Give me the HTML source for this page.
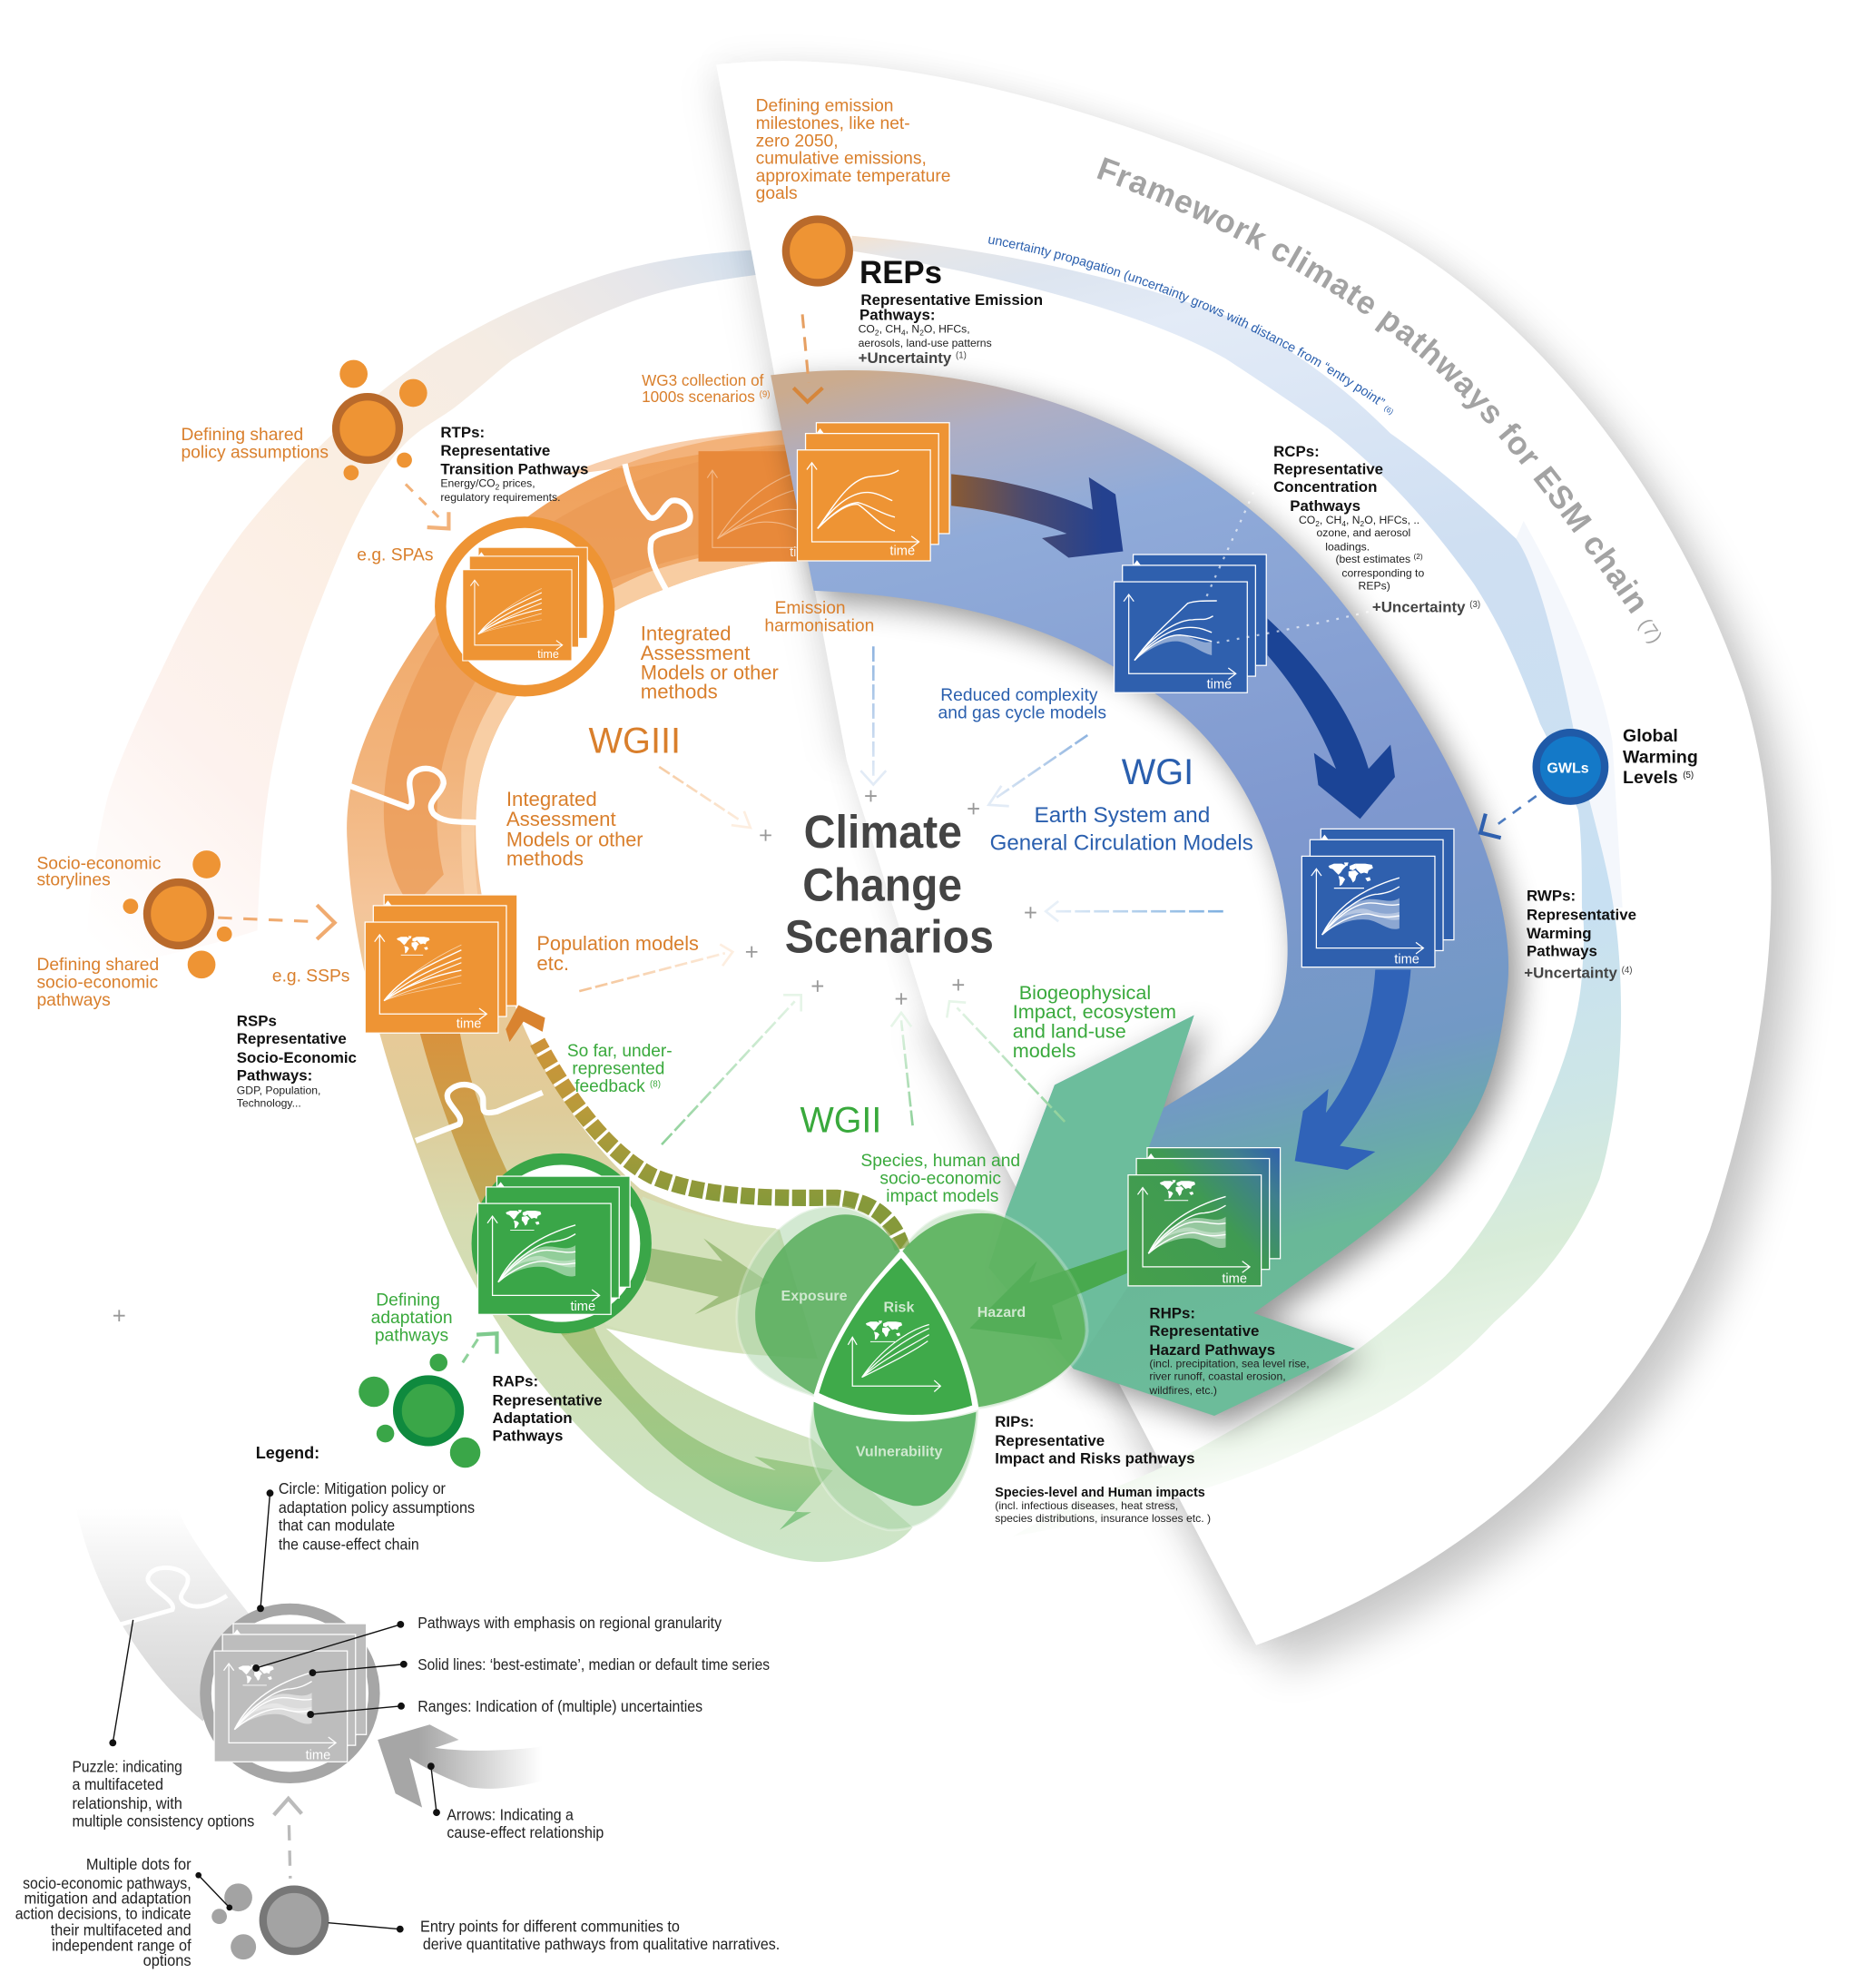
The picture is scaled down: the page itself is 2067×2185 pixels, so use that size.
<!DOCTYPE html>
<html><head><meta charset="utf-8"><title>Framework climate pathways</title>
<style>
html,body{margin:0;padding:0;background:#fff}
svg{display:block}
text{font-family:"Liberation Sans",Arial,sans-serif}
.o{fill:#d97f2c;font-size:13.8px}
.ol{fill:#d97f2c;font-size:15.9px}
.b{fill:#2a5fae;font-size:13.8px}
.g{fill:#39a93c;font-size:13.8px}
.gl{fill:#39a93c;font-size:15.5px}
.k{fill:#111;font-weight:bold;font-size:12.1px}
.s{fill:#222;font-size:8.75px}
.u{fill:#444;font-weight:bold;font-size:12.1px}
.v{fill:#cfe8cf;font-weight:bold;font-size:11.5px}
.t{fill:#fff;font-size:10.5px}
.l{fill:#222;font-size:12.5px}
.c{fill:#444;font-weight:bold;font-size:36.5px}
.sup{font-size:7px;font-weight:normal}
</style></head><body>
<svg xmlns="http://www.w3.org/2000/svg" width="2067" height="2185" viewBox="0 0 1480 1564.5">
<defs>
<filter id="b6" x="-30%" y="-30%" width="160%" height="160%"><feGaussianBlur stdDeviation="6"/></filter>
<filter id="b12" x="-30%" y="-30%" width="160%" height="160%"><feGaussianBlur stdDeviation="12"/></filter>
<filter id="b16" x="-30%" y="-30%" width="160%" height="160%"><feGaussianBlur stdDeviation="16"/></filter>
<linearGradient id="gLeft" gradientUnits="userSpaceOnUse" x1="620" y1="200" x2="90" y2="760">
<stop offset="0" stop-color="#cddff0"/><stop offset=".12" stop-color="#e6e6ea"/><stop offset=".28" stop-color="#f5ece3"/><stop offset=".5" stop-color="#fbeee2"/><stop offset=".78" stop-color="#fdf2ee"/><stop offset="1" stop-color="#fff"/></linearGradient>
<linearGradient id="gRight" gradientUnits="userSpaceOnUse" x1="672" y1="186" x2="882" y2="1206">
<stop offset="0" stop-color="#f4e2d0"/><stop offset=".02" stop-color="#e6e6e8"/><stop offset=".06" stop-color="#dde5f0"/><stop offset=".11" stop-color="#e3ebf7"/><stop offset=".32" stop-color="#cfdff2"/><stop offset=".61" stop-color="#c8e0f2"/><stop offset=".75" stop-color="#cde6e6"/><stop offset=".85" stop-color="#d8ecd8"/><stop offset=".955" stop-color="#eef7ec"/><stop offset="1" stop-color="#fff"/></linearGradient>
<linearGradient id="gBlue" gradientUnits="userSpaceOnUse" x1="700" y1="290" x2="900" y2="1120">
<stop offset="0" stop-color="#cbab8e"/><stop offset=".07" stop-color="#aeaec4"/><stop offset=".17" stop-color="#90abd9"/><stop offset=".5" stop-color="#7f98cf"/><stop offset=".72" stop-color="#7299c5"/><stop offset=".8" stop-color="#6aa8ad"/><stop offset=".87" stop-color="#69b898"/><stop offset="1" stop-color="#6cbc9a"/></linearGradient>
<linearGradient id="gRing" gradientUnits="userSpaceOnUse" x1="0" y1="340" x2="0" y2="1235">
<stop offset="0" stop-color="#ef9f58"/><stop offset=".3" stop-color="#f2b47c"/><stop offset=".42" stop-color="#f4c59a"/><stop offset=".52" stop-color="#e8ca97"/><stop offset=".6" stop-color="#dfcc9a"/><stop offset=".7" stop-color="#d6dcb2"/><stop offset=".8" stop-color="#d0dfb6"/><stop offset="1" stop-color="#cde6c9"/></linearGradient>
<linearGradient id="gS2" gradientUnits="userSpaceOnUse" x1="0" y1="810" x2="0" y2="1050">
<stop offset="0" stop-color="#d9913c"/><stop offset=".45" stop-color="#c6a552"/><stop offset="1" stop-color="#a3bb70"/></linearGradient>
<linearGradient id="gB" gradientUnits="userSpaceOnUse" x1="0" y1="1050" x2="0" y2="1210">
<stop offset="0" stop-color="#a9c27a"/><stop offset=".7" stop-color="#98c885"/><stop offset="1" stop-color="#7bc481"/></linearGradient>
<linearGradient id="gA1" gradientUnits="userSpaceOnUse" x1="750" y1="0" x2="870" y2="0">
<stop offset="0" stop-color="#8a5a33"/><stop offset=".5" stop-color="#4a4a70"/><stop offset="1" stop-color="#24418f"/></linearGradient>
<linearGradient id="gFb" gradientUnits="userSpaceOnUse" x1="0" y1="800" x2="0" y2="950">
<stop offset="0" stop-color="#d6913a"/><stop offset=".5" stop-color="#b89a3a"/><stop offset="1" stop-color="#86993a"/></linearGradient>
<linearGradient id="gHaz" gradientUnits="userSpaceOnUse" x1="890" y1="1015" x2="1010" y2="905">
<stop offset="0" stop-color="#46a04c"/><stop offset=".55" stop-color="#3f9a52"/><stop offset=".82" stop-color="#3f7f8e"/><stop offset="1" stop-color="#2f60ae"/></linearGradient>
<linearGradient id="gLegArr" gradientUnits="userSpaceOnUse" x1="330" y1="0" x2="428" y2="0">
<stop offset="0" stop-color="#a6a6a6"/><stop offset="1" stop-color="#fff"/></linearGradient>
<linearGradient id="gLegBand" gradientUnits="userSpaceOnUse" x1="0" y1="1190" x2="0" y2="1360">
<stop offset="0" stop-color="#fff"/><stop offset=".6" stop-color="#e2e2e2"/><stop offset="1" stop-color="#d4d4d4"/></linearGradient>
<linearGradient id="d1" gradientUnits="userSpaceOnUse" x1="689" y1="510" x2="689" y2="615"><stop offset="0" stop-color="#8fb4e0"/><stop offset="1" stop-color="#e2ebf6"/></linearGradient>
<linearGradient id="d2" gradientUnits="userSpaceOnUse" x1="858" y1="580" x2="780" y2="635"><stop offset="0" stop-color="#8fb4e0"/><stop offset="1" stop-color="#e2ebf6"/></linearGradient>
<linearGradient id="d3" gradientUnits="userSpaceOnUse" x1="965" y1="719" x2="825" y2="719"><stop offset="0" stop-color="#7fb0e0"/><stop offset="1" stop-color="#e8f0f8"/></linearGradient>
<linearGradient id="d4" gradientUnits="userSpaceOnUse" x1="520" y1="605" x2="590" y2="650"><stop offset="0" stop-color="#f6cba2"/><stop offset="1" stop-color="#fdeee0"/></linearGradient>
<linearGradient id="d5" gradientUnits="userSpaceOnUse" x1="457" y1="782" x2="578" y2="750"><stop offset="0" stop-color="#f4c294"/><stop offset="1" stop-color="#fdeee0"/></linearGradient>
<linearGradient id="d6" gradientUnits="userSpaceOnUse" x1="522" y1="903" x2="632" y2="785"><stop offset="0" stop-color="#8fd19a"/><stop offset="1" stop-color="#e6f5e8"/></linearGradient>
<linearGradient id="d7" gradientUnits="userSpaceOnUse" x1="720" y1="888" x2="710" y2="800"><stop offset="0" stop-color="#8fd19a"/><stop offset="1" stop-color="#e6f5e8"/></linearGradient>
<linearGradient id="d8" gradientUnits="userSpaceOnUse" x1="840" y1="885" x2="750" y2="790"><stop offset="0" stop-color="#8fd19a"/><stop offset="1" stop-color="#e6f5e8"/></linearGradient>
<path id="titlePath" d="M864,140 C960,175 1090,240 1165,325 C1210,375 1250,430 1310,518"/>
<path id="uncPath" d="M779,192 C890,212 1010,262 1104,332"/>
<path id="cres" d="M565,51 C700,35 880,85 1074,174 C1200,235 1320,380 1376,548 C1410,660 1405,800 1349,970 C1300,1100 1180,1230 991,1298 L733,806 L668,600Z"/>
<path id="wedge" d="M608,296 C780,275 960,340 1070,490 C1160,610 1200,720 1188,788 C1182,840 1170,870 1154,893 C1135,930 1095,960 1057,988 L989,1036 L1069,1064 L958,1117 L847,1080 L780,1000 L794,956 L832,856 L942,801 L918,874 C965,845 1005,825 1013,780 C1025,720 1000,600 900,540 C830,490 740,470 642,466Z"/>

<g id="stk">
<rect x="15" y="-21.5" width="105" height="87.5" fill="currentColor" stroke="#fff" stroke-width=".9"/>
<rect x="6.5" y="-13" width="105" height="87.5" fill="currentColor" stroke="#fff" stroke-width=".9"/>
<path d="M15,-13 l3,-4 l3,4z" fill="#fff"/>
<rect x="0" y="0" width="105" height="87.5" fill="currentColor" stroke="#fff" stroke-width=".9"/>
<g fill="none" stroke="#fff" stroke-width=".9">
<path d="M11.5,11 V72.5 H96"/><path d="M7.5,15.5 L11.5,10 L15.5,15.5"/><path d="M90,68 L96,72.5 L90,77"/>
</g>
</g>
<g id="map" fill="#fff">
<path d="M0,3 L5,1 L12,1 L16,3 L13,6 L11,9 L9,11 L7,9 L4,6 L1,5Z"/>
<path d="M14,0 L18,0 L17,3 L15,3Z"/>
<path d="M9,12 L13,13 L15,15 L12,20 L10,21 L10,16Z"/>
<path d="M19,3 L24,1 L25,5 L22,7 L19,6Z"/>
<path d="M18,8 L24,7 L27,10 L25,12 L24,16 L22,18 L20,14 L18,12Z"/>
<path d="M24,1 L33,1 L39,2 L40,5 L36,7 L35,10 L32,9 L29,10 L27,8 L25,6Z"/>
<path d="M33,14 L37,13 L38,16 L35,17Z"/>
<path d="M5,23 L32,23" stroke="#fff" stroke-width="1"/>
</g>
<g id="chBand">
<path d="M16,62 C25,45 40,36 52,34 C62,33 70,38 77,33 L77,57 C68,60 60,50 50,50 C38,49 25,55 16,62Z" fill="#fff" opacity=".45"/>
<path d="M24,53 C35,43 45,40 52,42 C62,46 70,46 77,44 L77,50 C68,52 60,46 50,45 C40,44 30,48 24,53Z" fill="#fff" opacity=".35"/>
<g fill="none" stroke="#fff" stroke-width="1">
<path d="M16,62 C28,38 50,25 77,17"/><path d="M16,62 C30,42 50,30 60,30 C68,29 72,27 77,24"/><path d="M16,62 C28,48 40,38 52,37 C60,36 68,40 77,38"/><path d="M16,62 C30,50 45,44 55,46 C65,49 70,48 77,47"/>
</g>
</g>
<g id="chBundle" fill="none" stroke="#fff">
<path d="M15,62 C30,45 50,30 76,18" stroke-width=".6" opacity=".6"/>
<path d="M15,62 C30,42 55,32 76,22" stroke-width="1"/>
<path d="M15,62 C32,46 55,36 76,28" stroke-width="1"/>
<path d="M15,62 C32,50 55,40 76,32" stroke-width=".8"/>
<path d="M15,62 C32,50 55,42 76,38" stroke-width="1"/>
<path d="M15,62 C32,54 55,48 76,42" stroke-width=".6" opacity=".7"/>
<path d="M15,62 C30,56 55,52 76,48" stroke-width=".6" opacity=".5"/>
</g>
</defs>

<rect width="1480" height="1564.5" fill="#fff"/>

<!-- left faint band -->
<path d="M622,196 C550,198 500,208 462,222 C420,236 385,253 346,276 C290,312 235,365 191,420 C165,455 148,485 133,517 C110,565 98,590 86,625 C75,665 70,715 66,765 C110,760 170,745 203,734 C205,680 208,635 218,590 C225,555 238,510 253,474 C268,435 285,395 307,365 C325,340 340,335 358,322 C380,305 390,295 404,284 C435,265 465,250 501,237 C530,227 565,220 622,214Z" fill="url(#gLeft)"/>

<!-- outer crescent shadows and fill -->
<use href="#cres" fill="#000" opacity=".05" filter="url(#b12)" transform="translate(-2,-4)"/>
<use href="#cres" fill="#000" opacity=".2" filter="url(#b16)" transform="translate(20,20)"/>
<path d="M566,60 L668,600" stroke="#000" stroke-opacity=".06" stroke-width="22" filter="url(#b12)" fill="none"/>
<path d="M733,806 L991,1298" stroke="#000" stroke-opacity=".09" stroke-width="30" filter="url(#b12)" fill="none"/>
<use href="#cres" fill="#fff"/>

<!-- right uncertainty band -->
<path d="M1202,411 C1235,470 1262,530 1272,585 L1280,716 L1273,716 C1268,680 1255,640 1245,594 C1235,540 1215,450 1196,425Z" fill="#f4f7fc"/>
<path d="M672,186 C780,195 890,220 967,249 C1010,270 1050,295 1097,342 C1130,365 1170,400 1196,425 C1215,450 1235,540 1245,594 C1255,640 1268,680 1273,716 C1280,760 1285,850 1262,930 C1240,985 1210,1015 1179,1043 C1140,1085 1100,1110 1057,1130 C1010,1155 960,1172 945,1176 C890,1195 840,1205 799,1212 C820,1200 850,1185 862,1180 C920,1160 960,1135 1008,1107 C1060,1075 1100,1045 1140,1007 C1175,970 1195,930 1213,888 C1230,850 1245,810 1248,770 C1250,740 1250,730 1248,716 C1248,690 1248,660 1245,639 C1235,615 1225,590 1215,571 C1200,530 1185,495 1163,461 C1130,415 1095,375 1048,338 C1020,318 990,298 967,283 C900,245 780,215 672,198Z" fill="url(#gRight)"/>

<!-- main ring -->
<path d="M640,338 C520,345 420,380 355,470 C295,550 270,610 274,665 C278,760 310,860 345,950 C380,1040 440,1120 510,1175 C570,1215 620,1235 655,1232 C690,1228 710,1218 720,1205 L640,1135 C590,1118 525,1090 478,1048 C550,1065 600,1070 645,1072 L615,970 C570,965 530,950 505,938 C450,890 420,830 405,790 C375,720 370,650 380,610 C395,550 440,495 524,465 C560,450 600,442 640,440Z" fill="url(#gRing)"/>
<path d="M640,350 C530,358 430,400 375,462 C325,520 300,590 303,650 C305,680 312,700 325,716 L350,690 C338,640 345,580 385,522 C420,475 520,432 640,425Z" fill="#eb9a54" opacity=".75"/>
<path d="M640,440 C600,442 560,450 524,465 C440,495 395,550 380,610 C370,650 375,720 385,745 L372,745 C362,690 362,640 368,600 C385,540 430,485 510,452 C550,438 600,430 640,428Z" fill="#f8d0a8" opacity=".9"/>
<path d="M640,338 C560,342 500,352 445,375 L500,368 C550,358 600,350 640,350Z" fill="#f5b987" opacity=".7"/>
<path d="M330,810 C345,870 370,930 395,985 L444,1054 L469,1048 L440,1000 C400,930 372,870 362,810Z" fill="url(#gS2)"/>
<!-- light green A band -->
<path d="M507,944 C540,958 580,966 612,969 L642,1070 C590,1072 530,1062 477,1045Z" fill="#d4e2bb" opacity=".9"/>
<!-- puzzle lines -->
<g fill="none" stroke="#fff" stroke-width="4.5">
<path d="M493,366 C497,385 503,398 512,408 C520,412 523,398 530,395 C540,393 548,405 543,413 C535,420 520,418 514,426 C510,440 520,455 527,468"/>
<path d="M276,620 L322,637 C330,635 318,618 326,610 C335,602 350,608 350,618 C348,628 335,632 342,642 C350,650 365,648 377,649"/>
<path d="M328,900 L362,887 C368,880 348,870 354,861 C362,852 378,855 381,866 C382,875 378,880 392,877 L428,862"/>
</g>
<!-- faded panel -->
<rect x="551" y="356" width="100" height="87" fill="#e8893a"/>
<g fill="none" stroke="#f6c69d" stroke-width=".8" opacity=".8">
<path d="M562,372 V432 H640"/><path d="M558,377 L562,371 L566,377"/>
<path d="M566,425 C585,395 610,375 640,370"/><path d="M566,425 C590,405 615,385 640,385"/><path d="M566,425 C590,410 615,395 640,405"/><path d="M566,425 C590,410 615,405 640,425"/>
</g>
<text x="623" y="439" class="t" fill-opacity=".9">ti</text>

<!-- blue wedge -->
<use href="#wedge" fill="#000" opacity=".42" filter="url(#b12)" transform="translate(8,8)"/>
<use href="#wedge" fill="url(#gBlue)"/>
<path d="M942,801 L832,856 L794,956 L780,1000 L847,1080 L900,1000 L906,906 L918,874Z" fill="#6cbd9c"/>

<!-- cause arrows -->
<path d="M750.5,374 C790,378 830,388 862,402 L859,376.5 L880,390 L886,435 L843,440 L822,424.6 L841.6,421 C815,410 780,402 750.5,399Z" fill="url(#gA1)"/>
<path d="M1000,488 C1040,525 1068,565 1079.7,606.6 L1097,587.5 L1100.5,613 L1073,646 L1040,619.4 L1036.6,594 L1054,606.6 C1040,570 1020,540 1000,517Z" fill="#1b4496"/>
<path d="M1085,765 L1113,765 C1110,810 1090,865 1057,904 L1085,908.6 L1063,923 L1021.5,916 L1028,876.6 L1048,859 L1046,878 C1068,850 1082,810 1085,765Z" fill="#3063b8"/>

<!-- feedback dashed arrow -->
<path d="M712,985 C705,962 690,948 660,945 C620,945 560,947 515,928 C480,910 450,870 424,822" fill="none" stroke="url(#gFb)" stroke-width="13" stroke-dasharray="11 2.5"/>
<path d="M399,812 L409,793 L430,803 L428,814 L413,806 L402,822Z" fill="#d9832f"/>

<!-- A arrow -->
<path d="M514,985 L570,995 L555,977 L607,1012 L548,1037 L567,1023 L509,1010Z" fill="#8fb36a" opacity=".75"/>
<!-- B arrow -->
<path d="M469,1048 C490,1095 540,1145 612,1160 L595,1149 L657,1160 L615,1207 L640,1193 C600,1195 540,1165 502,1119 C480,1095 460,1075 444,1054Z" fill="url(#gB)" opacity=".95"/>

<!-- hazard arrow -->
<path d="M889,986 L889,1004.5 L830,1030 L838,1057 L765,1048 L818,995 L812,1012Z" fill="#46ab4d"/>

<!-- Venn -->
<path d="M710,987 C690,950 655,945 630,958 C595,978 575,1020 583,1055 C590,1085 620,1095 642,1102Z" fill="#a8d4a6" opacity=".5" stroke="#fff" stroke-opacity=".5" stroke-width="2"/>
<path d="M710,987 C690,955 665,955 650,962 C615,975 590,1015 597,1050 C603,1075 625,1090 642,1100 C655,1060 680,1020 710,987Z" fill="#57ad5c" opacity=".85"/>
<path d="M712,985 C735,950 770,950 790,958 C830,975 858,1015 858,1050 C856,1085 805,1108 772,1112 C765,1065 740,1020 712,985Z" fill="#a8d4a6" opacity=".45" stroke="#fff" stroke-opacity=".5" stroke-width="2"/>
<path d="M712,987 C735,960 765,955 785,958 C825,970 855,1015 856,1050 C855,1085 805,1105 772,1110 C765,1065 740,1020 712,987Z" fill="#5cb35f" opacity=".93"/>
<path d="M889,986 L889,1004.5 L830,1030 L838,1057 L765,1048 L818,995 L812,1012Z" fill="#49a84f" opacity=".5"/>
<path d="M642,1106 C630,1150 650,1195 700,1207 C740,1210 770,1170 772,1112 C730,1126 680,1124 642,1106Z" fill="#a8d4a6" opacity=".55" stroke="#fff" stroke-opacity=".5" stroke-width="2"/>
<path d="M642,1106 C640,1140 665,1175 720,1188 C750,1190 768,1150 770,1114 C730,1126 680,1124 642,1106Z" fill="#58b263" opacity=".92"/>
<path d="M711,990 C680,1020 655,1060 644,1100 C690,1122 735,1122 769,1110 C762,1065 738,1020 711,990Z" fill="#3faa4a" stroke="#fff" stroke-width="3.5"/>
<use href="#map" transform="translate(683,1042) scale(.72)"/>
<g fill="none" stroke="#fff" stroke-width=".9">
<path d="M672.5,1055 V1093.5 H742"/><path d="M669,1061 L672.5,1055 L676,1061"/><path d="M737,1089 L742,1093.5 L737,1098"/>
<path d="M680,1086.6 C695,1065 715,1050 733,1045"/><path d="M680,1086.6 C695,1070 715,1056 733,1048"/><path d="M680,1086.6 C697,1072 718,1062 733,1053"/><path d="M680,1086.6 C697,1078 718,1068 732,1058"/>
</g>

<!-- RTP circle -->
<circle cx="414" cy="478.5" r="66.5" fill="#fff" stroke="#ee9434" stroke-width="9"/>
<!-- RAP circle -->
<circle cx="443" cy="981" r="66.5" fill="#fff" stroke="#3aa648" stroke-width="9"/>

<!-- Panels -->
<use href="#stk" x="629" y="355" style="color:#ee9434"/>
<g transform="translate(629,355)" fill="none" stroke="#fff" stroke-width="1">
<path d="M16,62 C30,42 42,22 58,21 C68,20 74,20 80,16"/><path d="M16,62 C28,45 42,33 56,33.5 C64,34 70,38 75,40"/><path d="M16,62 C28,50 38,42 48,41.5 C58,44 65,50 77,53"/><path d="M16,62 C28,50 40,42 48,43 C56,48 65,60 77,64"/>
</g>
<text x="702" y="438" class="t">time</text>

<use href="#stk" x="879" y="459" style="color:#2f60ae"/>
<g transform="translate(879,459)">
<path d="M16,62 C28,50 40,42 52,42 C62,43 70,50 77,47 L77,58 C68,56 60,48 50,47 C38,46 25,55 16,62Z" fill="#fff" opacity=".45"/>
<g fill="none" stroke="#fff" stroke-width="1">
<path d="M16,62 C30,42 45,30 58,17 C64,15 70,15 81,15"/><path d="M16,62 C30,42 50,30 62,30 C68,29 72,31 78,27"/><path d="M16,62 C30,46 45,36 60,36 C68,36 72,38 77,40"/><path d="M16,62 C28,50 40,42 52,42 C62,43 70,45 77,47"/>
</g></g>
<text x="952" y="543" class="t">time</text>

<use href="#stk" x="1027" y="675.5" style="color:#2f60ae"/>
<g transform="translate(1027,675.5)"><use href="#chBand"/><use href="#map" transform="translate(21,5) scale(.88)"/></g>
<text x="1100" y="760" class="t">time</text>

<g stroke="#fff" stroke-width=".9" fill="url(#gHaz)">
<rect x="905" y="905.5" width="105" height="87.5"/>
<rect x="896.5" y="914" width="105" height="87.5"/>
<rect x="890" y="927" width="105" height="87.5"/>
</g>
<path d="M905,914 l3,-4 l3,4z" fill="#fff"/>
<g transform="translate(890,927)" fill="none" stroke="#fff" stroke-width=".9">
<path d="M11.5,11 V72.5 H96"/><path d="M7.5,15.5 L11.5,10 L15.5,15.5"/><path d="M90,68 L96,72.5 L90,77"/>
</g>
<g transform="translate(890,927)"><use href="#chBand"/><use href="#map" transform="translate(25,4) scale(.7)"/></g>
<text x="964" y="1012" class="t">time</text>

<use href="#stk" x="377" y="949.5" style="color:#3aa648"/>
<g transform="translate(377,949.5)"><use href="#chBand"/><use href="#map" transform="translate(22,5) scale(.7)"/></g>
<text x="450" y="1034" class="t">time</text>

<use href="#stk" x="288" y="727.5" style="color:#ee9434"/>
<g transform="translate(288,727.5)"><use href="#chBundle"/><use href="#map" transform="translate(25,11) scale(.65)"/></g>
<text x="360" y="811" class="t">time</text>

<g transform="translate(365,449.5) scale(.82)">
<use href="#stk" style="color:#ee9434"/><use href="#chBundle"/>
</g>
<text x="424" y="519" class="t" style="font-size:9px">time</text>

<!-- entry circles -->
<g fill="#ee9434">
<circle cx="645" cy="198" r="25" stroke="#b96a2b" stroke-width="6"/>
<circle cx="290" cy="338" r="25" stroke="#b96a2b" stroke-width="6"/>
<circle cx="279" cy="295" r="11"/><circle cx="326" cy="310" r="11"/><circle cx="319" cy="363" r="6"/><circle cx="277" cy="373" r="6"/>
<circle cx="141" cy="721" r="25" stroke="#b96a2b" stroke-width="6"/>
<circle cx="163" cy="682" r="11"/><circle cx="103" cy="715" r="6"/><circle cx="177" cy="737" r="6"/><circle cx="159" cy="761" r="11"/>
</g>
<g fill="#3aa648">
<circle cx="338" cy="1113" r="24.5" stroke="#0f8a3e" stroke-width="7"/>
<circle cx="346" cy="1075" r="7"/><circle cx="295" cy="1098" r="12"/><circle cx="304" cy="1131" r="7"/><circle cx="367" cy="1146" r="12"/>
</g>
<circle cx="1239" cy="605" r="27" fill="#1479c8" stroke="#1f5aa8" stroke-width="6"/>

<!-- dashed entry arrows -->
<g fill="none" stroke-width="1.9">
<path d="M633,248 L638,302" stroke="#e6a063" stroke-width="2.2" stroke-dasharray="11 7"/>
<path d="M626,306 L637,317 L649,306" stroke="#d6863b" stroke-width="3"/>
<path d="M320,382 L346,408" stroke="#f2b27a" stroke-width="2.2" stroke-dasharray="8 7"/>
<path d="M337,416 L354,417 L354,404" stroke="#f2b27a" stroke-width="3"/>
<path d="M172,724 L245,727" stroke="#f0ab70" stroke-width="2.2" stroke-dasharray="11 9"/>
<path d="M250,714 L264,728 L250,741" stroke="#f0ab70" stroke-width="3"/>
<path d="M365,1075 L378,1055" stroke="#8fd19a" stroke-width="2.2" stroke-dasharray="8 6"/>
<path d="M376,1053 L392,1052 L392,1068" stroke="#7fca8e" stroke-width="3"/>
<path d="M1212,628 L1182,650" stroke="#4d7cc0" stroke-dasharray="8 7"/>
<path d="M1172,642 L1168,657 L1184,661" stroke="#2f60ae" stroke-width="3"/>
<path d="M689,510 V612" stroke="url(#d1)" stroke-dasharray="12 3"/>
<path d="M679,608 L689,619 L699,608" stroke="#e2ebf6"/>
<path d="M858,580 L785,630" stroke="url(#d2)" stroke-dasharray="12 3"/>
<path d="M790,620 L780,635 L796,636" stroke="#e2ebf6"/>
<path d="M965,719 H830" stroke="url(#d3)" stroke-dasharray="12 3"/>
<path d="M835,711 L825,719 L835,727" stroke="#e8f0f8"/>
<path d="M520,605 L585,648" stroke="url(#d4)" stroke-dasharray="10 3"/>
<path d="M577,651 L592,653 L587,640" stroke="#fdeee0"/>
<path d="M457,782 L572,752" stroke="url(#d5)" stroke-dasharray="10 3"/>
<path d="M568,745 L578,751 L570,762" stroke="#fdeee0"/>
<path d="M522,903 L627,790" stroke="url(#d6)" stroke-dasharray="12 3"/>
<path d="M618,785 L632,785 L632,798" stroke="#e6f5e8"/>
<path d="M720,888 L711,805" stroke="url(#d7)" stroke-dasharray="12 3"/>
<path d="M703,810 L711,799 L719,810" stroke="#e6f5e8"/>
<path d="M840,885 L755,795" stroke="url(#d8)" stroke-dasharray="12 3"/>
<path d="M747,803 L749,790 L762,791" stroke="#e6f5e8"/>
</g>
<!-- RCP dotted -->
<g fill="none" stroke="#fff" stroke-opacity=".65" stroke-width="1.6" stroke-dasharray="2 6">
<path d="M998,366 C985,400 965,440 950,475"/><path d="M960,507 C1000,500 1050,490 1082,482"/>
</g>
<!-- plus signs -->
<g stroke="#999" stroke-width="1.3">
<path d="M682.5,628 h9 M687,623.5 v9"/><path d="M763.5,638 h9 M768,633.5 v9"/><path d="M599.5,659 h9 M604,654.5 v9"/><path d="M808.5,720 h9 M813,715.5 v9"/><path d="M588.5,751 h9 M593,746.5 v9"/><path d="M640.5,778 h9 M645,773.5 v9"/><path d="M706.5,788 h9 M711,783.5 v9"/><path d="M751.5,777 h9 M756,772.5 v9"/><path d="M89.5,1038 h9 M94,1033.5 v9"/>
</g>

<!-- LEGEND graphics -->
<path d="M60,1190 C75,1260 115,1320 160,1358 L197,1274 C170,1240 150,1215 140,1190Z" fill="url(#gLegBand)"/>
<path d="M90,1283 L136,1270 C140,1262 113,1252 117,1244 C120,1234 142,1235 148,1244 C150,1254 138,1258 145,1264 C152,1270 165,1268 179,1259" fill="none" stroke="#fff" stroke-width="3.5"/>
<circle cx="228.7" cy="1336" r="66.5" fill="#fff" stroke="#a6a6a6" stroke-width="9"/>
<use href="#stk" x="169" y="1302.5" style="color:#bdbdbd"/>
<g transform="translate(169,1302.5)"><use href="#chBand"/><use href="#map" transform="translate(19,11) scale(.7)"/></g>
<text x="241" y="1388" class="t">time</text>
<path d="M298,1372.6 L339,1360.6 L362,1372.6 L343,1379 C365,1382 395,1382 428,1378 L428,1405 C400,1412 385,1412 370,1410 C350,1402 335,1395 323,1387 L333,1426 L312,1415Z" fill="url(#gLegArr)"/>
<path d="M216,1432 L227.5,1419 L238,1431" fill="none" stroke="#bbb" stroke-width="3"/>
<path d="M228,1440 L229,1482" stroke="#bbb" stroke-width="2.4" stroke-dasharray="12 8" fill="none"/>
<circle cx="232" cy="1515" r="24.5" fill="#a3a3a3" stroke="#777" stroke-width="6"/>
<circle cx="188" cy="1497" r="11" fill="#a3a3a3"/><circle cx="173" cy="1512" r="6" fill="#a3a3a3"/><circle cx="192" cy="1536" r="10" fill="#a3a3a3"/>
<g stroke="#111" stroke-width="1" fill="none">
<path d="M213,1178 L205.5,1269"/><path d="M316,1281.6 L202,1316"/><path d="M318.5,1313 L246.6,1319.7"/><path d="M316.5,1346 L245,1352.6"/><path d="M105,1278 L89,1375"/><path d="M340,1393.5 L344.4,1430"/><path d="M156.6,1479.5 L181,1505"/><path d="M259,1517 L315.6,1522"/>
</g>
<g fill="#111">
<circle cx="213" cy="1178" r="2.8"/><circle cx="205.5" cy="1269" r="2.8"/><circle cx="316" cy="1281.6" r="2.8"/><circle cx="202" cy="1316" r="2.8"/><circle cx="318.5" cy="1313" r="2.8"/><circle cx="246.6" cy="1319.7" r="2.8"/><circle cx="316.5" cy="1346" r="2.8"/><circle cx="245" cy="1352.6" r="2.8"/><circle cx="89" cy="1375" r="2.8"/><circle cx="340" cy="1393.5" r="2.8"/><circle cx="344.4" cy="1430" r="2.8"/><circle cx="156.6" cy="1479.5" r="2.4"/><circle cx="181" cy="1505" r="2.4"/><circle cx="315.6" cy="1522" r="2.8"/>
</g>

<!-- TEXT -->
<text style="font-size:25.5px;font-weight:bold;fill:#a3a3a3;letter-spacing:.7px"><textPath href="#titlePath">Framework climate pathways for ESM chain <tspan style="font-size:15px;font-weight:normal">(7)</tspan></textPath></text>
<text style="font-size:10.3px;fill:#2a5fae"><textPath href="#uncPath">uncertainty propagation (uncertainty grows with distance from “entry point” <tspan style="font-size:6px">(6)</tspan></textPath></text>

<g transform="scale(.99865,.998)">
<text class="o" x="597" y="88">Defining emission</text>
<text class="o" x="597" y="102">milestones, like net-</text>
<text class="o" x="597" y="116">zero 2050,</text>
<text class="o" x="597" y="129.5">cumulative emissions,</text>
<text class="o" x="597" y="143.5" textLength="154" lengthAdjust="spacingAndGlyphs">approximate temperature</text>
<text class="o" x="597" y="157">goals</text>
<text class="o" style="font-size:12.3px" x="507" y="305">WG3 collection of</text>
<text class="o" style="font-size:12.3px" x="507" y="318">1000s scenarios <tspan dy="-4" class="sup">(9)</tspan></text>
<text class="o" x="612" y="485">Emission</text>
<text class="o" x="604" y="499">harmonisation</text>
<text class="ol" x="506" y="506">Integrated</text>
<text class="ol" x="506" y="521.5">Assessment</text>
<text class="ol" x="506" y="537" textLength="109" lengthAdjust="spacingAndGlyphs">Models or other</text>
<text class="ol" x="506" y="552">methods</text>
<text class="ol" style="font-size:28.5px" x="465" y="595">WGIII</text>
<text class="ol" x="400" y="637">Integrated</text>
<text class="ol" x="400" y="653">Assessment</text>
<text class="ol" x="400" y="669" textLength="108" lengthAdjust="spacingAndGlyphs">Models or other</text>
<text class="ol" x="400" y="684">methods</text>
<text class="ol" x="424" y="751" textLength="128" lengthAdjust="spacingAndGlyphs">Population models</text>
<text class="ol" x="424" y="767">etc.</text>
<text class="o" x="143" y="348">Defining shared</text>
<text class="o" x="143" y="362">policy assumptions</text>
<text class="o" x="282" y="443">e.g. SPAs</text>
<text class="o" x="29" y="687">Socio-economic</text>
<text class="o" x="29" y="700">storylines</text>
<text class="o" x="29" y="767">Defining shared</text>
<text class="o" x="29" y="781">socio-economic</text>
<text class="o" x="29" y="795">pathways</text>
<text class="o" x="215" y="776">e.g. SSPs</text>

<text class="c" x="635" y="670" textLength="125" lengthAdjust="spacingAndGlyphs">Climate</text>
<text class="c" x="634" y="712" textLength="126" lengthAdjust="spacingAndGlyphs">Change</text>
<text class="c" x="620" y="753" textLength="165" lengthAdjust="spacingAndGlyphs">Scenarios</text>

<text class="b" x="743" y="554">Reduced complexity</text>
<text class="b" x="741" y="568" textLength="133" lengthAdjust="spacingAndGlyphs">and gas cycle models</text>
<text class="b" style="font-size:28.5px" x="886" y="620">WGI</text>
<text class="b" style="font-size:17.5px" x="817" y="650">Earth System and</text>
<text class="b" style="font-size:17.5px" x="782" y="672" textLength="208" lengthAdjust="spacingAndGlyphs">General Circulation Models</text>

<text class="gl" x="805" y="790">Biogeophysical</text>
<text class="gl" x="800" y="805">Impact, ecosystem</text>
<text class="gl" x="800" y="820.5">and land-use</text>
<text class="gl" x="800" y="836">models</text>
<text class="g" style="font-size:28.3px" x="632" y="895">WGII</text>
<text class="g" style="font-size:13.7px" x="448" y="835">So far, under-</text>
<text class="g" style="font-size:13.7px" x="452" y="849">represented</text>
<text class="g" style="font-size:13.7px" x="454" y="863">feedback <tspan dy="-4" class="sup">(8)</tspan></text>
<text class="g" x="680" y="922" textLength="126" lengthAdjust="spacingAndGlyphs">Species, human and</text>
<text class="g" x="695" y="936">socio-economic</text>
<text class="g" x="700" y="950">impact models</text>
<text class="g" x="297" y="1032">Defining</text>
<text class="g" x="293" y="1046">adaptation</text>
<text class="g" x="296" y="1060">pathways</text>

<text class="v" x="617" y="1028">Exposure</text>
<text class="v" x="698" y="1037">Risk</text>
<text class="v" x="772" y="1041">Hazard</text>
<text class="v" x="676" y="1151">Vulnerability</text>

<text class="k" style="font-size:25px" x="679" y="224">REPs</text>
<text class="k" x="680" y="241">Representative Emission</text>
<text class="k" x="679" y="253">Pathways:</text>
<text class="s" x="678" y="263">CO<tspan dy="2" font-size="6">2</tspan><tspan dy="-2">, CH</tspan><tspan dy="2" font-size="6">4</tspan><tspan dy="-2">, N</tspan><tspan dy="2" font-size="6">2</tspan><tspan dy="-2">O, HFCs,</tspan></text>
<text class="s" x="678" y="274">aerosols, land-use patterns</text>
<text class="u" x="678" y="287">+Uncertainty <tspan dy="-4" class="sup">(1)</tspan></text>

<text class="k" x="348" y="346">RTPs:</text>
<text class="k" x="348" y="360">Representative</text>
<text class="k" x="348" y="375">Transition Pathways</text>
<text class="s" x="348" y="385">Energy/CO<tspan dy="2" font-size="6">2</tspan><tspan dy="-2"> prices,</tspan></text>
<text class="s" x="348" y="396">regulatory requirements.</text>

<text class="k" x="187" y="811">RSPs</text>
<text class="k" x="187" y="825">Representative</text>
<text class="k" x="187" y="840">Socio-Economic</text>
<text class="k" x="187" y="854">Pathways:</text>
<text class="s" x="187" y="865">GDP, Population,</text>
<text class="s" x="187" y="875">Technology...</text>

<text class="k" x="1006" y="361">RCPs:</text>
<text class="k" x="1006" y="375">Representative</text>
<text class="k" x="1006" y="389">Concentration</text>
<text class="k" x="1019" y="404">Pathways</text>
<text class="s" x="1026" y="414">CO<tspan dy="2" font-size="6">2</tspan><tspan dy="-2">, CH</tspan><tspan dy="2" font-size="6">4</tspan><tspan dy="-2">, N</tspan><tspan dy="2" font-size="6">2</tspan><tspan dy="-2">O, HFCs, ..</tspan></text>
<text class="s" x="1040" y="424">ozone, and aerosol</text>
<text class="s" x="1047" y="435">loadings.</text>
<text class="s" x="1055" y="445">(best estimates <tspan dy="-3" font-size="6">(2)</tspan></text>
<text class="s" x="1060" y="456">corresponding to</text>
<text class="s" x="1073" y="466">REPs)</text>
<text class="u" x="1084" y="484">+Uncertainty <tspan dy="-4" class="sup">(3)</tspan></text>

<text style="font-size:11.5px;font-weight:bold;fill:#fff" x="1222" y="611">GWLs</text>
<text class="k" style="font-size:14px" x="1282" y="586">Global</text>
<text class="k" style="font-size:14px" x="1282" y="603">Warming</text>
<text class="k" style="font-size:14px" x="1282" y="619">Levels <tspan dy="-4" class="sup">(5)</tspan></text>

<text class="k" x="1206" y="712">RWPs:</text>
<text class="k" x="1206" y="727">Representative</text>
<text class="k" x="1206" y="742">Warming</text>
<text class="k" x="1206" y="756">Pathways</text>
<text class="u" x="1204" y="773">+Uncertainty <tspan dy="-4" class="sup">(4)</tspan></text>

<text class="k" x="908" y="1042">RHPs:</text>
<text class="k" x="908" y="1056">Representative</text>
<text class="k" x="908" y="1071">Hazard Pathways</text>
<text class="s" x="908" y="1081">(incl. precipitation, sea level rise,</text>
<text class="s" x="908" y="1091">river runoff, coastal erosion,</text>
<text class="s" x="908" y="1102">wildfires, etc.)</text>

<text class="k" x="786" y="1128">RIPs:</text>
<text class="k" x="786" y="1143">Representative</text>
<text class="k" x="786" y="1157">Impact and Risks pathways</text>
<text class="k" style="font-size:10.3px" x="786" y="1183">Species-level and Human impacts</text>
<text class="s" x="786" y="1193">(incl. infectious diseases, heat stress,</text>
<text class="s" x="786" y="1203">species distributions, insurance losses etc. )</text>

<text class="k" x="389" y="1096">RAPs:</text>
<text class="k" x="389" y="1111">Representative</text>
<text class="k" x="389" y="1125">Adaptation</text>
<text class="k" x="389" y="1139">Pathways</text>

<text class="k" style="font-size:13px" x="202" y="1153">Legend:</text>
<text class="l" x="220" y="1181" textLength="132" lengthAdjust="spacingAndGlyphs">Circle: Mitigation policy or</text>
<text class="l" x="220" y="1196" textLength="155" lengthAdjust="spacingAndGlyphs">adaptation policy assumptions</text>
<text class="l" x="220" y="1210" textLength="92" lengthAdjust="spacingAndGlyphs">that can modulate</text>
<text class="l" x="220" y="1225" textLength="111" lengthAdjust="spacingAndGlyphs">the cause-effect chain</text>
<text class="l" x="330" y="1287" textLength="240" lengthAdjust="spacingAndGlyphs">Pathways with emphasis on regional granularity</text>
<text class="l" x="330" y="1320" textLength="278" lengthAdjust="spacingAndGlyphs">Solid lines: ‘best-estimate’, median or default time series</text>
<text class="l" x="330" y="1353" textLength="225" lengthAdjust="spacingAndGlyphs">Ranges: Indication of (multiple) uncertainties</text>
<text class="l" x="57" y="1401" textLength="87" lengthAdjust="spacingAndGlyphs">Puzzle: indicating</text>
<text class="l" x="57" y="1415" textLength="72" lengthAdjust="spacingAndGlyphs">a multifaceted</text>
<text class="l" x="57" y="1430" textLength="87" lengthAdjust="spacingAndGlyphs">relationship, with</text>
<text class="l" x="57" y="1444" textLength="144" lengthAdjust="spacingAndGlyphs">multiple consistency options</text>
<text class="l" x="353" y="1439" textLength="100" lengthAdjust="spacingAndGlyphs">Arrows: Indicating a</text>
<text class="l" x="353" y="1453" textLength="124" lengthAdjust="spacingAndGlyphs">cause-effect relationship</text>
<text class="l" x="68" y="1478" textLength="83" lengthAdjust="spacingAndGlyphs">Multiple dots for</text>
<text class="l" x="18" y="1493" textLength="133" lengthAdjust="spacingAndGlyphs">socio-economic pathways,</text>
<text class="l" x="19" y="1505" textLength="132" lengthAdjust="spacingAndGlyphs">mitigation and adaptation</text>
<text class="l" x="12" y="1517" textLength="139" lengthAdjust="spacingAndGlyphs">action decisions, to indicate</text>
<text class="l" x="40" y="1530" textLength="111" lengthAdjust="spacingAndGlyphs">their multifaceted and</text>
<text class="l" x="41" y="1542" textLength="110" lengthAdjust="spacingAndGlyphs">independent range of</text>
<text class="l" x="113" y="1554" textLength="38" lengthAdjust="spacingAndGlyphs">options</text>
<text class="l" x="332" y="1527" textLength="205" lengthAdjust="spacingAndGlyphs">Entry points for different communities to</text>
<text class="l" x="334" y="1541" textLength="282" lengthAdjust="spacingAndGlyphs">derive quantitative pathways from qualitative narratives.</text>
</g>
</svg>
</body></html>
